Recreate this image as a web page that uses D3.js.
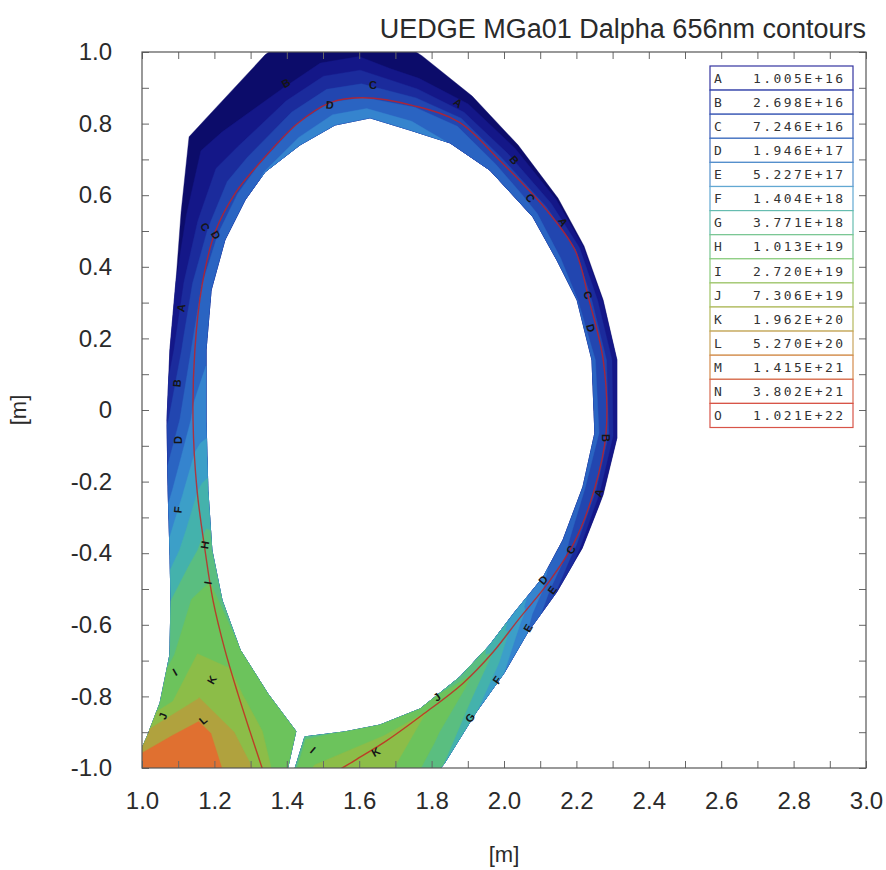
<!DOCTYPE html>
<html>
<head>
<meta charset="utf-8">
<script src="https://cdn.jsdelivr.net/npm/d3@7"></script>
<style>
  body { margin: 0; background: #fff; }
  svg { display: block; }
</style>
</head>
<body>
<svg id="chart" width="886" height="870"></svg>
<script>
// ---- Contour levels (D-alpha emission) ----
const levelNames  = ["A","B","C","D","E","F","G","H","I","J","K","L","M","N","O"];
const levelValues = [1.005e16, 2.698e16, 7.246e16, 1.946e17, 5.227e17, 1.404e18, 3.771e18,
                     1.013e19, 2.720e19, 7.306e19, 1.962e20, 5.270e20, 1.415e21, 3.802e21, 1.021e22];
const levelLabels = ["1.005E+16","2.698E+16","7.246E+16","1.946E+17","5.227E+17","1.404E+18",
                     "3.771E+18","1.013E+19","2.720E+19","7.306E+19","1.962E+20","5.270E+20",
                     "1.415E+21","3.802E+21","1.021E+22"];

// fill between successive levels: below A, A-B, ..., N-O, above O
const bandColors = ["#0c0c6a","#141788","#1b2b9c","#2246b0","#2a64c2","#3584ce","#3c9fc8","#44b2ac",
                    "#5abe80","#6cc35c","#8cbd48","#b0a23e","#e07030","#e4602c","#e04024","#d82820"];
// legend outline colour for each level
const legendColors = ["#3434a0","#3446ac","#3a5ab6","#4474c2","#5490cc","#62a8d2","#66bcb0","#78c690",
                      "#8ccc7c","#a0c466","#b4b85c","#c8a45c","#d48a4c","#d86a50","#d85448"];

// ---- Edge mesh: poloidal stations from inner leg, over the top, to outer leg ----
// inner boundary of the grid
const innerR = [1.395,1.425,1.348,1.271,1.221,1.193,1.182,1.177,1.177,1.191,1.229,1.285,1.340,1.436,1.533,1.630,1.740,1.851,1.961,2.080,2.146,2.202,2.243,2.251,2.218,2.163,2.108,2.030,1.961,1.878,1.768,1.657,1.561,1.450,1.417];
const innerZ = [-1.034,-0.897,-0.793,-0.670,-0.531,-0.391,-0.223,-0.028,0.168,0.335,0.475,0.587,0.665,0.740,0.796,0.816,0.782,0.746,0.670,0.539,0.419,0.307,0.140,-0.064,-0.215,-0.363,-0.467,-0.564,-0.656,-0.746,-0.835,-0.880,-0.899,-0.913,-1.020];
// separatrix
const sepR = [1.343,1.298,1.265,1.229,1.196,1.174,1.152,1.141,1.146,1.166,1.202,1.260,1.318,1.428,1.519,1.610,1.754,1.876,1.989,2.113,2.196,2.235,2.274,2.282,2.249,2.193,2.122,2.041,1.970,1.887,1.774,1.674,1.586,1.492,1.437];
const sepZ = [-1.034,-0.897,-0.793,-0.670,-0.531,-0.391,-0.223,-0.028,0.168,0.349,0.497,0.609,0.682,0.799,0.858,0.872,0.849,0.804,0.696,0.564,0.447,0.307,0.140,-0.064,-0.224,-0.372,-0.483,-0.584,-0.676,-0.763,-0.852,-0.925,-0.980,-1.039,-1.089];
// outer boundary of the grid
const outerR = [0.953,1.014,1.050,1.077,1.080,1.077,1.072,1.069,1.077,1.094,1.108,1.130,1.180,1.340,1.464,1.588,1.774,1.912,2.039,2.149,2.221,2.274,2.312,2.312,2.274,2.216,2.146,2.066,2.000,1.923,1.834,1.738,1.657,1.561,1.519];
const outerZ = [-1.048,-0.913,-0.818,-0.684,-0.531,-0.391,-0.223,-0.028,0.168,0.363,0.553,0.763,0.818,0.992,1.089,1.112,0.989,0.877,0.740,0.592,0.458,0.307,0.140,-0.078,-0.237,-0.386,-0.508,-0.620,-0.735,-0.844,-0.989,-1.101,-1.201,-1.229,-1.257];

// ---- log10 emission on the radial nodes of every station ----
const logInner    = [19.70,19.55,19.45,19.45,19.35,19.15,18.70,17.95,17.65,17.60,17.55,17.60,17.75,17.90,17.95,17.95,17.90,17.70,17.50,17.40,17.35,17.30,17.35,17.40,17.35,17.45,17.80,18.40,18.95,19.35,19.50,19.50,19.45,19.40,19.35];
const logInnerMid = [19.80,19.75,19.65,19.55,19.45,19.20,18.65,17.90,17.55,17.45,17.40,17.45,17.55,17.65,17.70,17.70,17.65,17.50,17.35,17.25,17.20,17.20,17.25,17.25,17.20,17.30,17.70,18.30,18.90,19.40,19.65,19.75,19.75,19.70,19.65];
const logSep      = [20.20,20.00,19.95,19.80,19.60,19.15,18.55,17.80,17.45,17.30,17.15,17.20,17.25,17.30,17.30,17.30,17.25,17.15,17.05,17.00,16.95,17.05,17.10,17.10,17.05,17.15,17.60,18.30,19.00,19.60,19.90,20.10,20.25,20.35,20.40];
const logOuterMid = [21.12,20.95,20.30,19.85,19.45,18.80,18.10,17.30,16.90,16.70,16.45,16.30,16.20,16.00,15.95,15.95,16.05,16.20,16.35,16.40,16.45,16.55,16.60,16.60,16.55,16.70,17.20,17.95,18.60,19.10,19.50,19.80,19.95,20.00,20.05];
const logOuter    = [21.10,20.50,19.65,19.35,19.00,18.30,17.55,16.80,16.20,16.00,15.80,15.70,15.70,15.60,15.60,15.60,15.60,15.70,15.80,15.85,15.90,15.95,16.00,16.00,15.95,16.20,16.80,17.70,18.15,18.60,19.00,19.30,19.45,19.55,19.60];

// ---- contour line labels ----
const labelText  = ["B","C","D","A","B","C","A","C","D","B","A","C","D","E","E","F","G","J","K","I","C","D","A","B","D","F","H","I","I","K","J","L"];
const labelR     = [1.398,1.638,1.519,1.873,2.028,2.072,2.163,2.232,2.240,2.282,2.262,2.185,2.108,2.133,2.066,1.981,1.906,1.815,1.646,1.472,1.174,1.204,1.108,1.097,1.099,1.099,1.174,1.182,1.091,1.193,1.058,1.169];
const labelZ     = [0.913,0.908,0.852,0.858,0.698,0.592,0.525,0.321,0.229,-0.078,-0.232,-0.391,-0.475,-0.503,-0.609,-0.754,-0.860,-0.802,-0.955,-0.950,0.511,0.489,0.285,0.075,-0.084,-0.279,-0.377,-0.483,-0.732,-0.754,-0.855,-0.866];
const labelAngle = [-30,0,5,35,50,55,60,70,75,90,-70,-60,-50,-55,-60,-55,-55,-35,-30,40,60,60,-80,-85,-90,-85,-80,-80,-30,-60,-70,-40];

// ---- axes ----
const xTickLabels = ["1.0","1.2","1.4","1.6","1.8","2.0","2.2","2.4","2.6","2.8","3.0"];
const yTickLabels = ["-1.0","-0.8","-0.6","-0.4","-0.2","0","0.2","0.4","0.6","0.8","1.0"];
const titleText = "UEDGE MGa01 Dalpha 656nm contours";
const axisLabel = "[m]";

const svg = d3.select("#chart");
const plot = { left: 142, right: 866, top: 52, bottom: 768 };
const x = d3.scaleLinear().domain([1.0, 3.0]).range([plot.left, plot.right]);
const y = d3.scaleLinear().domain([-1.0, 1.0]).range([plot.bottom, plot.top]);
const font = "'Liberation Sans', Arial, Helvetica, sans-serif";

svg.append("defs").append("clipPath").attr("id", "plotClip")
  .append("rect").attr("x", plot.left).attr("y", plot.top)
  .attr("width", plot.right - plot.left).attr("height", plot.bottom - plot.top);

// ---- build value grid (poloidal index i, radial index j) ----
const nx = innerR.length, ny = 5;
const radialRows = [logInner, logInnerMid, logSep, logOuterMid, logOuter];
const grid = new Array(nx * ny);
for (let j = 0; j < ny; j++) for (let i = 0; i < nx; i++) grid[j * nx + i] = radialRows[j][i];

function node(i, j) {
  const a = [innerR[i], innerZ[i]], s = [sepR[i], sepZ[i]], o = [outerR[i], outerZ[i]];
  if (j === 0) return a;
  if (j === 1) return [(a[0] + s[0]) / 2, (a[1] + s[1]) / 2];
  if (j === 2) return s;
  if (j === 3) return [(s[0] + o[0]) / 2, (s[1] + o[1]) / 2];
  return o;
}
// grid-index coordinates -> (R, Z) by bilinear interpolation on the mesh
function meshPoint(u, v) {
  const s = Math.max(0, Math.min(nx - 1, u - 0.5));
  const t = Math.max(0, Math.min(ny - 1, v - 0.5));
  const i0 = Math.min(nx - 2, Math.floor(s)), j0 = Math.min(ny - 2, Math.floor(t));
  const fi = s - i0, fj = t - j0;
  const p00 = node(i0, j0), p10 = node(i0 + 1, j0), p01 = node(i0, j0 + 1), p11 = node(i0 + 1, j0 + 1);
  const w00 = (1 - fi) * (1 - fj), w10 = fi * (1 - fj), w01 = (1 - fi) * fj, w11 = fi * fj;
  return [w00 * p00[0] + w10 * p10[0] + w01 * p01[0] + w11 * p11[0],
          w00 * p00[1] + w10 * p10[1] + w01 * p01[1] + w11 * p11[1]];
}
const meshProjection = d3.geoTransform({
  point(u, v) { const p = meshPoint(u, v); this.stream.point(x(p[0]), y(p[1])); }
});
const contourPath = d3.geoPath(meshProjection);
const contourGen = d3.contours().size([nx, ny]);

const thresholds = [d3.min(grid) - 1].concat(levelValues.map(v => Math.log10(v)));
const bands = svg.append("g").attr("clip-path", "url(#plotClip)");
thresholds.forEach((th, k) => {
  bands.append("path")
    .attr("d", contourPath(contourGen.contour(grid, th)))
    .attr("fill", bandColors[k])
    .attr("stroke", bandColors[k])
    .attr("stroke-width", 0.4);
});

// separatrix
const sepLine = d3.line().x(d => x(d[0])).y(d => y(d[1])).curve(d3.curveCatmullRom);
bands.append("path")
  .attr("d", sepLine(sepR.map((r, i) => [r, sepZ[i]])))
  .attr("fill", "none").attr("stroke", "#c81e1e").attr("stroke-width", 1.4).attr("stroke-opacity", 0.8);

// contour letters
bands.selectAll("text.clabel").data(labelText).join("text")
  .attr("class", "clabel")
  .attr("transform", (d, i) => `translate(${x(labelR[i])},${y(labelZ[i])}) rotate(${labelAngle[i]})`)
  .attr("text-anchor", "middle").attr("dy", "0.35em")
  .attr("font-family", font).attr("font-size", 11).attr("font-weight", "bold")
  .attr("fill", "#151515")
  .text(d => d);

// ---- frame and axes ----
const minorX = d3.range(10, 31).map(d => d / 10);
const minorY = d3.range(-10, 11).map(d => d / 10);
const tickLen = 7;

const gx = svg.append("g").attr("transform", `translate(0,${plot.bottom})`)
  .call(d3.axisBottom(x).tickValues(minorX).tickSizeInner(-tickLen).tickSizeOuter(0).tickPadding(24)
    .tickFormat((d, i) => i % 2 === 0 ? xTickLabels[i / 2] : ""));
const gxt = svg.append("g").attr("transform", `translate(0,${plot.top})`)
  .call(d3.axisTop(x).tickValues(minorX).tickSizeInner(-tickLen).tickSizeOuter(0).tickFormat(""));
const gy = svg.append("g").attr("transform", `translate(${plot.left},0)`)
  .call(d3.axisLeft(y).tickValues(minorY).tickSizeInner(-tickLen).tickSizeOuter(0).tickPadding(30)
    .tickFormat((d, i) => i % 2 === 0 ? yTickLabels[i / 2] : ""));
const gyr = svg.append("g").attr("transform", `translate(${plot.right},0)`)
  .call(d3.axisRight(y).tickValues(minorY).tickSizeInner(-tickLen).tickSizeOuter(0).tickFormat(""));

[gx, gxt, gy, gyr].forEach(g => {
  g.select(".domain").remove();
  g.selectAll(".tick line").attr("stroke", "#666").attr("stroke-width", 1);
  g.selectAll(".tick text").attr("font-family", font).attr("font-size", 24).attr("fill", "#2a2a2a");
});

svg.append("rect")
  .attr("x", plot.left).attr("y", plot.top)
  .attr("width", plot.right - plot.left).attr("height", plot.bottom - plot.top)
  .attr("fill", "none").attr("stroke", "#555").attr("stroke-width", 1.2);

// ---- legend ----
const legend = { left: 710, right: 853, top: 66, row: 24.1 };
const lg = svg.append("g");
levelNames.forEach((name, k) => {
  const ry = legend.top + k * legend.row;
  lg.append("rect")
    .attr("x", legend.left).attr("y", ry)
    .attr("width", legend.right - legend.left).attr("height", legend.row)
    .attr("fill", "#fff").attr("stroke", legendColors[k]).attr("stroke-width", 1.2);
  lg.append("text")
    .attr("x", legend.left + 4).attr("y", ry + legend.row / 2).attr("dy", "0.36em")
    .attr("font-family", "'DejaVu Sans Mono', monospace").attr("font-size", 13).attr("fill", "#333")
    .text(name);
  lg.append("text")
    .attr("x", legend.right - 10).attr("y", ry + legend.row / 2).attr("dy", "0.36em")
    .attr("text-anchor", "end")
    .attr("font-family", "'DejaVu Sans Mono', monospace").attr("font-size", 13).attr("fill", "#333")
    .attr("textLength", 90).attr("lengthAdjust", "spacing")
    .text(levelLabels[k]);
});

// ---- titles ----
svg.append("text")
  .attr("x", plot.right).attr("y", 38).attr("text-anchor", "end")
  .attr("font-family", font).attr("font-size", 27).attr("fill", "#2a2a2a")
  .text(titleText);
svg.append("text")
  .attr("x", (plot.left + plot.right) / 2).attr("y", 862).attr("text-anchor", "middle")
  .attr("font-family", font).attr("font-size", 22).attr("fill", "#2a2a2a")
  .text(axisLabel);
svg.append("text")
  .attr("transform", `translate(26,${(plot.top + plot.bottom) / 2}) rotate(-90)`)
  .attr("text-anchor", "middle")
  .attr("font-family", font).attr("font-size", 22).attr("fill", "#2a2a2a")
  .text(axisLabel);
</script>
</body>
</html>
